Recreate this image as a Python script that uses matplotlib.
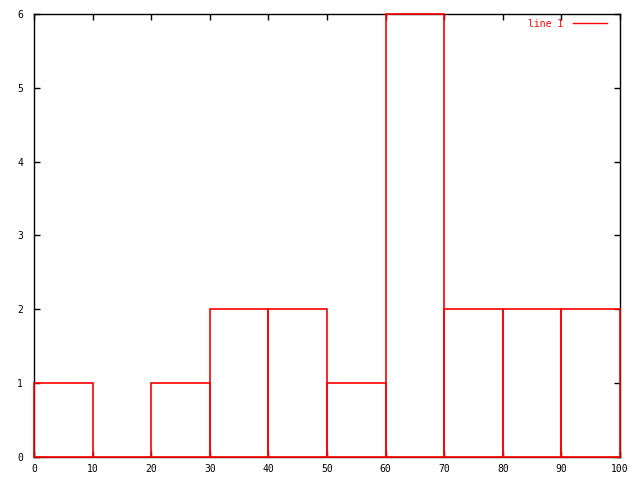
import matplotlib
matplotlib.use("Agg")
import matplotlib.pyplot as plt
from matplotlib.lines import Line2D

bin_left = [0, 10, 20, 30, 40, 50, 60, 70, 80, 90]
counts = [1, 0, 1, 2, 2, 1, 6, 2, 2, 2]
xticks = [0, 10, 20, 30, 40, 50, 60, 70, 80, 90, 100]
yticks = [0, 1, 2, 3, 4, 5, 6]

plt.rcParams['font.family'] = ['DejaVu Sans Mono']
fig = plt.figure(figsize=(6.4, 4.8), dpi=100)
ax = fig.add_axes([34/640, 23/480, (620-34)/640, (457-14)/480])

ax.bar(bin_left, counts, width=10, align='edge', fill=False,
       edgecolor='red', linewidth=1.2, zorder=3, clip_on=False)

ax.set_xlim(0, 100)
ax.set_ylim(0, 6)
ax.set_xticks(xticks)
ax.set_yticks(yticks)
ax.tick_params(direction='in', length=4, width=1, top=True, right=True,
               labelsize=7, pad=5, colors='black')
ax.tick_params(axis='y', pad=8)
for s in ax.spines.values():
    s.set_linewidth(1)
    s.set_zorder(2)

h = Line2D([], [], color='red', linewidth=1)
ax.legend([h], ['line 1'], loc='upper right', frameon=False, markerfirst=False,
          labelcolor='red', fontsize=7, handlelength=3.5, handletextpad=1.0,
          borderaxespad=0.1, bbox_to_anchor=(1 - 8/586, 1))

fig.savefig('out.png', dpi=100)
